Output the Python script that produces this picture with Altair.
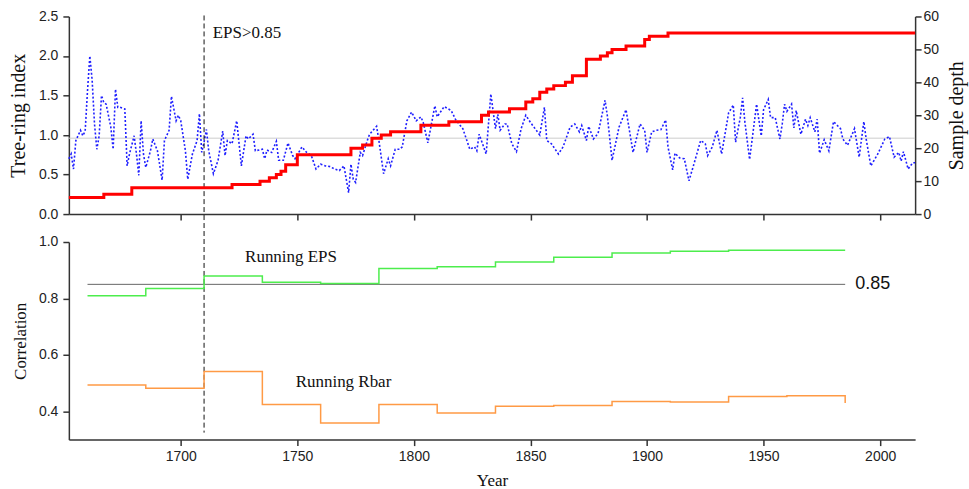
import altair as alt
import pandas as pd

SERIF = "Liberation Serif"
SANS = "Liberation Sans"

# ---------------- data ----------------
idx_years = [1652, 1653, 1654, 1655, 1657, 1658, 1659, 1660, 1661, 1662, 1663, 1664, 1665, 1666,
             1667, 1668, 1670, 1671, 1672, 1673, 1674, 1676, 1677, 1678, 1680, 1681, 1682, 1683,
             1684, 1685, 1687, 1688, 1690, 1692, 1693, 1695, 1696, 1698, 1699, 1700, 1702, 1703,
             1705, 1707, 1708, 1709, 1710, 1711, 1712, 1714, 1716, 1718, 1719, 1720, 1722, 1724,
             1726, 1728, 1729, 1731, 1732, 1735, 1736, 1737, 1739, 1741, 1742, 1744, 1746, 1748,
             1749, 1752, 1754, 1756, 1758, 1760, 1762, 1764, 1766, 1768, 1770, 1772, 1773, 1774,
             1775, 1777, 1778, 1780, 1781, 1784, 1785, 1787, 1789, 1790, 1792, 1794, 1795, 1797,
             1799, 1801, 1803, 1804, 1806, 1809, 1810, 1813, 1816, 1818, 1821, 1824, 1826, 1827,
             1828, 1831, 1833, 1835, 1836, 1837, 1839, 1840, 1842, 1844, 1846, 1848, 1850, 1854,
             1856, 1857, 1859, 1862, 1864, 1867, 1869, 1871, 1872, 1874, 1875, 1877, 1879, 1882,
             1883, 1885, 1888, 1891, 1894, 1897, 1899, 1900, 1902, 1904, 1906, 1908, 1909, 1911,
             1912, 1914, 1916, 1918, 1920, 1923, 1925, 1926, 1928, 1930, 1932, 1935, 1937, 1938,
             1940, 1941, 1942, 1944, 1947, 1949, 1950, 1952, 1953, 1955, 1957, 1958, 1959, 1960,
             1962, 1963, 1964, 1966, 1968, 1969, 1970, 1972, 1973, 1974, 1976, 1978, 1980, 1983,
             1984, 1986, 1989, 1991, 1993, 1994, 1996, 1999, 2002, 2004, 2006, 2008, 2009, 2010,
             2012, 2014, 2015]
idx_vals = [0.70, 0.76, 0.57, 0.93, 1.06, 0.99, 1.05, 1.56, 2.00, 1.69, 1.14, 0.82, 0.99, 1.50,
            1.41, 1.39, 1.10, 0.82, 1.58, 1.35, 1.35, 1.33, 0.61, 0.76, 0.99, 0.76, 0.49, 1.18,
            0.76, 0.59, 0.80, 0.95, 0.80, 0.43, 0.93, 1.06, 1.49, 1.18, 1.25, 1.18, 0.80, 0.44,
            0.76, 0.93, 1.27, 0.78, 0.91, 1.07, 0.80, 0.51, 0.68, 1.05, 0.74, 0.93, 0.89, 1.18,
            0.61, 0.99, 0.95, 1.01, 0.80, 0.82, 0.70, 0.81, 0.78, 0.92, 0.68, 0.68, 0.90, 0.74,
            0.70, 0.85, 0.78, 0.74, 0.57, 0.63, 0.61, 0.60, 0.57, 0.55, 0.61, 0.27, 0.63, 0.44,
            0.40, 0.78, 0.74, 0.93, 1.01, 1.11, 0.93, 0.51, 0.70, 0.61, 0.82, 0.82, 0.85, 1.18,
            1.29, 1.18, 1.23, 1.16, 0.90, 1.37, 1.23, 1.36, 1.31, 1.19, 1.08, 0.82, 0.85, 0.80,
            1.01, 0.76, 1.52, 1.08, 1.26, 1.06, 1.14, 1.14, 0.89, 0.79, 1.08, 1.25, 1.16, 1.00,
            1.35, 0.93, 0.89, 0.76, 0.85, 1.10, 1.14, 1.04, 1.12, 0.93, 1.11, 0.95, 1.02, 1.44,
            1.24, 0.68, 1.10, 1.32, 0.78, 1.14, 1.06, 0.78, 1.04, 1.06, 1.07, 1.19, 0.85, 0.56,
            0.77, 0.71, 0.70, 0.42, 0.62, 0.93, 0.89, 0.74, 0.85, 1.06, 0.76, 1.28, 1.38, 0.91,
            1.22, 1.47, 1.16, 0.69, 1.39, 0.99, 1.32, 1.45, 1.22, 1.22, 0.95, 1.14, 1.39, 1.30,
            1.39, 1.09, 1.31, 1.01, 1.20, 1.12, 1.22, 1.04, 1.20, 0.77, 0.94, 0.80, 1.17, 1.08,
            0.95, 0.87, 1.08, 0.72, 1.17, 0.95, 0.61, 0.76, 0.95, 0.98, 0.72, 0.78, 0.67, 0.79,
            0.57, 0.65, 0.65]
mean_level = [0.96]

depth_years = [1652, 1667, 1679, 1722, 1734, 1738, 1741, 1743, 1745, 1750, 1773, 1778, 1782,
               1786, 1790, 1803, 1815, 1829, 1832, 1841, 1848, 1851, 1854, 1857, 1860, 1865,
               1868, 1874, 1880, 1883, 1885, 1891, 1899, 1901, 1909, 2015]
depth_vals = [5, 6, 8, 9, 10, 11, 12, 13, 15, 18, 20, 21, 23, 24, 25, 27, 28, 30, 31, 32, 34,
              35, 37, 38, 39, 40, 42, 47, 48, 49, 50, 51, 53, 54, 55, 55]

win_years = [1660, 1685, 1710, 1735, 1760, 1785, 1810, 1835, 1860, 1885, 1910, 1935, 1960, 1985]
eps_vals = [0.810, 0.835, 0.880, 0.857, 0.853, 0.906, 0.912, 0.929, 0.946, 0.961, 0.967, 0.971,
            0.971, 0.971]
rbar_vals = [0.493, 0.482, 0.541, 0.424, 0.359, 0.424, 0.394, 0.418, 0.421, 0.435, 0.433, 0.453,
             0.455, 0.430]

threshold_years = [1660, 1985]
threshold_val = 0.85
eps_start_year = [1710]

x_domain = [1652, 2015]
x_ticks = [1700, 1750, 1800, 1850, 1900, 1950, 2000]
y_top_ticks = [0.0, 0.5, 1.0, 1.5, 2.0, 2.5]
y_depth_ticks = [0, 10, 20, 30, 40, 50, 60]
y_bot_ticks = [0.4, 0.6, 0.8, 1.0]

# ---------------- frames ----------------
idx_df = pd.DataFrame({"year": idx_years, "value": idx_vals})
mean_df = pd.DataFrame({"value": mean_level})
depth_df = pd.DataFrame({"year": depth_years, "depth": depth_vals})
eps_df = pd.DataFrame({"year": win_years, "r": eps_vals})
rbar_df = pd.DataFrame({"year": win_years, "r": rbar_vals})
thr_df = pd.DataFrame({"year": threshold_years, "r": [threshold_val] * 2})
vline_df = pd.DataFrame({"year": eps_start_year})
top_text_df = pd.DataFrame({"year": [1713.7], "value": [2.23], "label": ["EPS>0.85"]})
bot_text_df = pd.DataFrame({"year": [1727.6, 1749.3], "r": [0.929, 0.485],
                            "label": ["Running EPS", "Running Rbar"]})
thr_text_df = pd.DataFrame({"year": [1989.3], "r": [0.85], "label": ["0.85"]})

W, H, GAP = 848, 198, 28

xs = alt.Scale(domain=x_domain, nice=False, zero=False)
x_top_axis = alt.Axis(values=x_ticks, labels=False, title=None)
x_bot_axis = alt.Axis(values=x_ticks, format="d", title="Year", labelPadding=4,
                      titlePadding=9, titleFontSize=17)


def x_top():
    return alt.X("year:Q", scale=xs, axis=x_top_axis, title=None)


def x_bot():
    return alt.X("year:Q", scale=xs, axis=x_bot_axis, title="Year")


ys_top = alt.Scale(domain=[0, 2.5], nice=False, zero=False)
y_top_axis = alt.Axis(values=y_top_ticks, format=".1f", title="Tree-ring index",
                      titleFontSize=20, titlePadding=10, labelPadding=5, labelOverlap=False)


def y_top():
    return alt.Y("value:Q", scale=ys_top, axis=y_top_axis, title="Tree-ring index")


mean_rule = alt.Chart(mean_df).mark_rule(color="#cccccc", strokeWidth=1).encode(y=y_top())
blue = alt.Chart(idx_df).mark_line(color="#1f1fff", strokeWidth=1.6, strokeDash=[2, 2]).encode(
    x=x_top(), y=y_top())
vline = alt.Chart(vline_df).mark_rule(color="#111111", strokeWidth=1, strokeDash=[5, 3]).encode(
    x=x_top(), y=alt.value(-1), y2=alt.value(H + GAP + 191))
top_text = alt.Chart(top_text_df).mark_text(align="left", baseline="alphabetic", font=SERIF,
                                            fontSize=17, color="#111111").encode(
    x=x_top(), y=y_top(), text="label:N")
red = alt.Chart(depth_df).mark_line(color="#ff0000", strokeWidth=3, interpolate="step-after").encode(
    x=x_top(),
    y=alt.Y("depth:Q", scale=alt.Scale(domain=[0, 60], nice=False), title="Sample depth",
            axis=alt.Axis(orient="right", values=y_depth_ticks, title="Sample depth",
                          titleAngle=270, titleBaseline="top", titleFontSize=20,
                          labelPadding=2, titlePadding=8, labelOverlap=False)))

left_layer = alt.layer(mean_rule, blue, vline, top_text)
top = alt.layer(left_layer, red).resolve_scale(y="independent").properties(width=W, height=H)

ys_bot = alt.Scale(domain=[0.3, 1.0], nice=False, zero=False)
y_bot_axis = alt.Axis(values=y_bot_ticks, format=".1f", title="Correlation",
                      titleFontSize=17, titlePadding=9, labelPadding=5, labelOverlap=False)


def y_bot():
    return alt.Y("r:Q", scale=ys_bot, axis=y_bot_axis, title="Correlation")


thr = alt.Chart(thr_df).mark_line(color="#666666", strokeWidth=1).encode(x=x_bot(), y=y_bot())
eps = alt.Chart(eps_df).mark_line(color="#4ded4d", strokeWidth=1.5, interpolate="step-after").encode(
    x=x_bot(), y=y_bot())
rbar = alt.Chart(rbar_df).mark_line(color="#ff9a45", strokeWidth=1.5, interpolate="step-after").encode(
    x=x_bot(), y=y_bot())
bot_text = alt.Chart(bot_text_df).mark_text(align="left", baseline="alphabetic", font=SERIF,
                                            fontSize=17, color="#111111").encode(
    x=x_bot(), y=y_bot(), text="label:N")
thr_text = alt.Chart(thr_text_df).mark_text(align="left", baseline="middle", font=SANS,
                                            fontSize=18, color="#111111").encode(
    x=x_bot(), y=y_bot(), text="label:N")

bottom = alt.layer(thr, eps, rbar, bot_text, thr_text).properties(width=W, height=H)

chart = alt.vconcat(top, bottom, spacing=GAP, bounds="flush").properties(
    padding={"left": 8, "top": 9, "right": 2, "bottom": 0},
    background="white",
).configure_view(stroke=None).configure_axis(
    grid=False,
    domainColor="#333333", domainWidth=1.5,
    tickColor="#333333", tickWidth=1.5, tickSize=6,
    labelFont=SANS, labelFontSize=14, labelColor="#222222",
    titleFont=SERIF, titleFontWeight="normal", titleColor="#111111",
)

chart.save("out.html", embed_options={"renderer": "svg", "actions": False})
